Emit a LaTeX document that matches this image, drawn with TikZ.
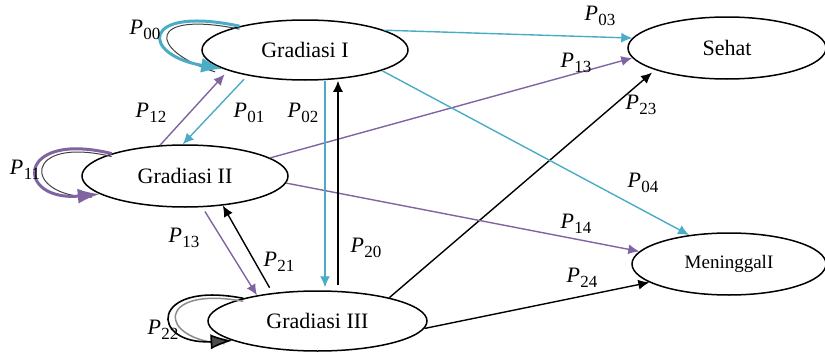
\documentclass[tikz,border=0pt]{standalone}
\usepackage{fontspec}
\setmainfont{Liberation Serif}
\usetikzlibrary{shapes.geometric,arrows.meta,calc}
\definecolor{cy}{HTML}{4BACC6}
\definecolor{pu}{HTML}{8064A2}
\newcommand\Plab[1]{{\fontsize{22}{24}\selectfont\itshape P}\kern0.5pt\raisebox{-4.5pt}{\fontsize{17}{17}\selectfont #1}}
\begin{document}
\begin{tikzpicture}[x=1pt,y=-1pt,
  st/.style={ellipse,draw,line width=1.5pt,inner sep=0pt,font=\fontsize{22}{26}\selectfont},
  lbl/.style={inner sep=0pt},
  ar/.style={line width=1.4pt,-{Latex[length=11pt,width=10pt]}},
  loopa/.style={line width=3pt,-{Latex[length=22pt,width=15pt]}},
  loopb/.style={line width=1pt}]
\useasboundingbox (0,0) rectangle (825,356);
% states
\node[st,minimum width=206pt,minimum height=60pt] (g1) at (305,50) {Gradiasi I};
\node[st,minimum width=206pt,minimum height=62pt] (g2) at (185,176) {Gradiasi II};
\node[st,minimum width=219pt,minimum height=60pt] (g3) at (317.5,321) {Gradiasi III};
\node[st,minimum width=198pt,minimum height=62pt] (sehat) at (727,48) {Sehat};
\node[st,minimum width=194pt,minimum height=62pt,font=\fontsize{19}{22}\selectfont] (men) at (729,264) {MeninggalI};
% transitions to absorbing states
\draw[ar,cy] (g1.14) -- (sehat.174);
\draw[ar,pu] (g2.12) -- (sehat.186);
\draw[ar,shorten >=4pt] (g3.18) -- (sehat.197);
\draw[ar,cy] (g1.-15) -- (men.144);
\draw[ar,pu] (g2.-4) -- (men.172);
\draw[ar] (g3.-4) -- (men.193);
% transitions among gradations
\draw[ar,cy,shorten >=3pt] ([xshift=20pt]g1.south) -- ([xshift=7.5pt]g3.north);
\draw[ar,shorten <=5pt] ([xshift=20.5pt]g3.north) -- ([xshift=33pt]g1.south);
\draw[ar,cy,shorten <=5pt] (g1.204) -- (g2.94);
\draw[ar,pu,shorten >=5pt] (g2.129) -- (g1.195);
\draw[ar,pu,shorten <=5pt] (g2.-61) -- (g3.157);
\draw[ar,shorten <=6pt] (g3.148.4) -- (g2.-38);
% self loops
\draw[loopb,black!75] ([yshift=-3pt]g1.160) .. controls (147,10) and (147,50) .. ([shift={(-8pt,-3pt)}]g1.193);
\draw[loopa,cy] (g1.160) .. controls (140,5) and (140,55) .. (g1.193);
\draw[loopb,black!75] ([yshift=-3pt]g2.163) .. controls (22,135) and (22,197) .. ([shift={(-8pt,-3pt)}]g2.192.5);
\draw[loopa,pu] (g2.163) .. controls (15,130) and (15,202) .. (g2.192.5);
\draw[loopb,black!45,line width=1.5pt] ([yshift=-3pt]g3.163) .. controls (156,285) and (156,340) .. ([shift={(-8pt,-3pt)}]g3.193.5);
\draw[line width=1.6pt,black,-{Latex[length=22pt,width=15pt,fill=black!70]}] (g3.163) .. controls (149,280) and (149,345) .. (g3.193.5);
% labels
\node[lbl] (l00) at (145,30) {\Plab{00}};
\node[lbl] (l11) at (25,170) {\Plab{11}};
\node[lbl] (l22) at (163,330) {\Plab{22}};
\node[lbl] (l12) at (151,113) {\Plab{12}};
\node[lbl] (l01) at (249,113) {\Plab{01}};
\node[lbl] (l02) at (303,113) {\Plab{02}};
\node[lbl] (l13a) at (184,238) {\Plab{13}};
\node[lbl] (l21) at (279,262) {\Plab{21}};
\node[lbl] (l20) at (366,248) {\Plab{20}};
\node[lbl] (l03) at (600,16) {\Plab{03}};
\node[lbl] (l13b) at (576,63) {\Plab{13}};
\node[lbl] (l23) at (641,105) {\Plab{23}};
\node[lbl] (l04) at (643,183) {\Plab{04}};
\node[lbl] (l14) at (576,224) {\Plab{14}};
\node[lbl] (l24) at (582,278) {\Plab{24}};
\end{tikzpicture}
\end{document}
